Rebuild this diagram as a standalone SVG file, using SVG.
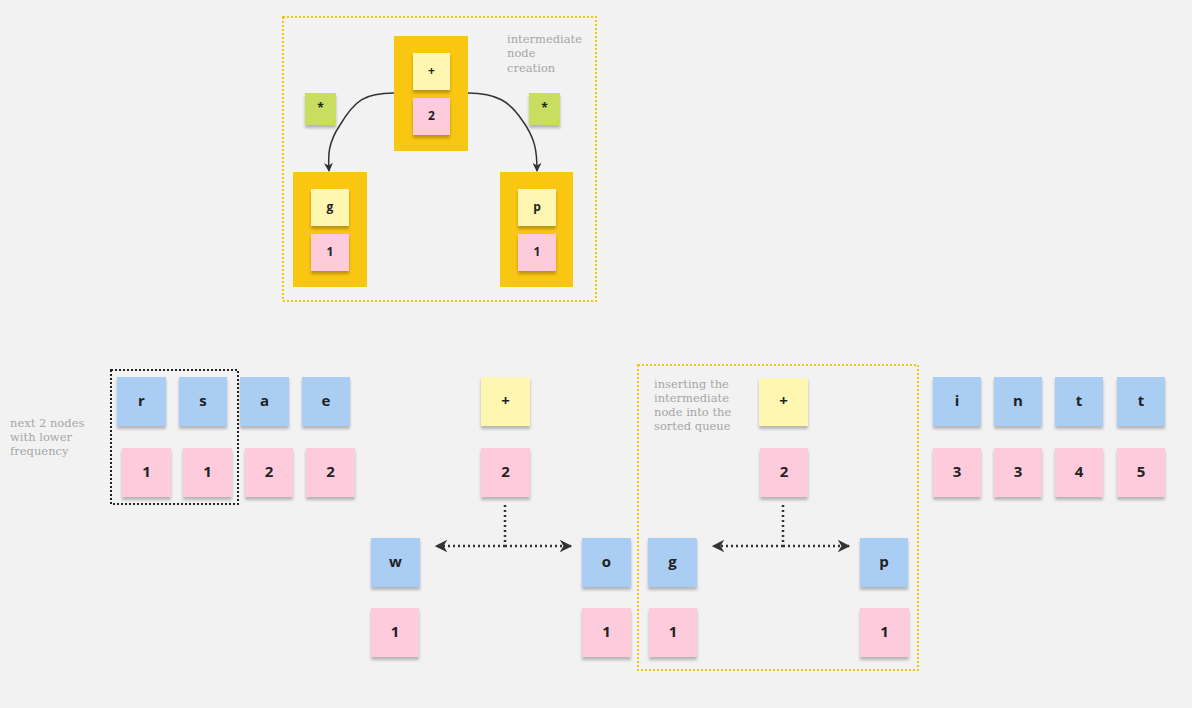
<svg xmlns="http://www.w3.org/2000/svg" width="1192" height="708" viewBox="0 0 1192 708">
<style>
.bg{fill:#f2f2f2}
.blue{fill:#a9cdf3}
.pink{fill:#fdcbdc}
.yel{fill:#fef7b1}
.grn{fill:#c9de60}
.org{fill:#f9c612}
.n{filter:url(#sh)}
.lbl{font-family:"Open Sans",sans-serif;font-weight:700;fill:#222;text-anchor:middle;font-size:15px}
.sl{font-size:12px}
.note{font-family:"DejaVu Serif","Liberation Serif",serif;font-weight:normal;fill:#a6a6a6;font-size:11.5px}
.yframe{fill:none;stroke:#f3c416;stroke-width:2;stroke-dasharray:2 2}
.kframe{fill:none;stroke:#222;stroke-width:2;stroke-dasharray:2 2}
.dot{fill:none;stroke:#333;stroke-width:2.5;stroke-dasharray:2 3}
.cur{fill:none;stroke:#333;stroke-width:1.5}
</style>
<defs>
<filter id="sh" x="-20%" y="-20%" width="140%" height="150%">
<feDropShadow dx="0" dy="3" stdDeviation="1.5" flood-color="#000" flood-opacity="0.25"/>
</filter>
<marker id="ah" viewBox="0 0 10 10" refX="9" refY="5" markerWidth="5" markerHeight="5" orient="auto-start-reverse">
<path d="M0,0 L10,5 L0,10 L3,5 z" fill="#333"/>
</marker>
<marker id="ah2" viewBox="0 0 10 10" refX="9" refY="5" markerWidth="6" markerHeight="6" orient="auto">
<path d="M0,0 L10,5 L0,10 L3,5 z" fill="#333"/>
</marker>
</defs>
<rect class="bg" x="0" y="0" width="1192" height="708"/>

<!-- frames -->
<rect class="yframe" x="283" y="17" width="313" height="284"/>
<rect class="kframe" x="111" y="370" width="127" height="134"/>
<rect class="yframe" x="638" y="365" width="280" height="305"/>

<!-- notes text -->
<text class="note" x="507" y="43">intermediate</text>
<text class="note" x="507" y="57">node</text>
<text class="note" x="507" y="72">creation</text>
<text class="note" x="10" y="427">next 2 nodes</text>
<text class="note" x="10" y="441">with lower</text>
<text class="note" x="10" y="455">frequency</text>
<text class="note" x="654" y="388">inserting the</text>
<text class="note" x="654" y="402">intermediate</text>
<text class="note" x="654" y="416">node into the</text>
<text class="note" x="654" y="430">sorted queue</text>

<!-- connectors -->
<g id="connectors">
<path class="cur" d="M394,93 C365,93 355,100 340,125 C328,143 328,155 329,171" marker-end="url(#ah2)"/>
<path class="cur" d="M468,93 C497,93 510,102 522,120 C535,138 537,150 537,171" marker-end="url(#ah2)"/>
<path class="dot" d="M505,505 L505,546"/>
<path class="dot" d="M505,546 L436,546" marker-end="url(#ah)"/>
<path class="dot" d="M505,546 L571,546" marker-end="url(#ah)"/>
<path class="dot" d="M783,505 L783,546"/>
<path class="dot" d="M783,546 L713,546" marker-end="url(#ah)"/>
<path class="dot" d="M783,546 L849,546" marker-end="url(#ah)"/>
</g>

<!-- top section -->
<g id="node-top-plus">
<rect class="org" x="394" y="36" width="74" height="115"/>
<rect class="yel n" x="413" y="53" width="37" height="37"/>
<text class="lbl sl" x="431.5" y="75">+</text>
<rect class="pink n" x="413" y="98" width="37" height="37"/>
<text class="lbl sl" x="431.5" y="120">2</text>
</g>
<g id="node-top-g">
<rect class="org" x="293" y="172" width="74" height="115"/>
<rect class="yel n" x="311" y="189" width="38" height="37"/>
<text class="lbl sl" x="330" y="211">g</text>
<rect class="pink n" x="311" y="234" width="38" height="37"/>
<text class="lbl sl" x="330" y="256">1</text>
</g>
<g id="node-top-p">
<rect class="org" x="500" y="172" width="73" height="115"/>
<rect class="yel n" x="518" y="189" width="38" height="37"/>
<text class="lbl sl" x="537" y="211">p</text>
<rect class="pink n" x="518" y="234" width="38" height="37"/>
<text class="lbl sl" x="537" y="256">1</text>
</g>
<g id="node-star-left">
<rect class="grn n" x="305" y="93" width="31" height="32"/>
<text class="lbl sl" x="320.5" y="112">*</text>
</g>
<g id="node-star-right">
<rect class="grn n" x="529" y="93" width="31" height="32"/>
<text class="lbl sl" x="544.5" y="112">*</text>
</g>

<!-- bottom queue -->
<g id="node-r"><rect class="blue n" x="117" y="377" width="49" height="49"/><text class="lbl" x="141.5" y="406">r</text>
<rect class="pink n" x="122" y="448" width="49" height="49"/><text class="lbl" x="146.5" y="477">1</text></g>
<g id="node-s"><rect class="blue n" x="179" y="377" width="48" height="49"/><text class="lbl" x="203" y="406">s</text>
<rect class="pink n" x="183" y="448" width="49" height="49"/><text class="lbl" x="207.5" y="477">1</text></g>
<g id="node-a"><rect class="blue n" x="240" y="377" width="49" height="49"/><text class="lbl" x="264.5" y="406">a</text>
<rect class="pink n" x="245" y="448" width="48" height="49"/><text class="lbl" x="269" y="477">2</text></g>
<g id="node-e"><rect class="blue n" x="302" y="377" width="48" height="49"/><text class="lbl" x="326" y="406">e</text>
<rect class="pink n" x="306" y="448" width="49" height="49"/><text class="lbl" x="330.5" y="477">2</text></g>

<g id="node-mid-plus"><rect class="yel n" x="481" y="377" width="49" height="49"/><text class="lbl" x="505.5" y="406">+</text>
<rect class="pink n" x="481" y="448" width="49" height="49"/><text class="lbl" x="505.5" y="477">2</text></g>
<g id="node-w"><rect class="blue n" x="371" y="538" width="49" height="49"/><text class="lbl" x="395.5" y="567">w</text>
<rect class="pink n" x="371" y="608" width="48" height="49"/><text class="lbl" x="395" y="637">1</text></g>
<g id="node-o"><rect class="blue n" x="582" y="538" width="49" height="49"/><text class="lbl" x="606.5" y="567">o</text>
<rect class="pink n" x="582" y="608" width="49" height="49"/><text class="lbl" x="606.5" y="637">1</text></g>

<g id="node-ins-plus"><rect class="yel n" x="759" y="378" width="49" height="48"/><text class="lbl" x="783.5" y="406">+</text>
<rect class="pink n" x="760" y="448" width="48" height="49"/><text class="lbl" x="784" y="477">2</text></g>
<g id="node-g"><rect class="blue n" x="648" y="538" width="49" height="49"/><text class="lbl" x="672.5" y="567">g</text>
<rect class="pink n" x="649" y="608" width="48" height="49"/><text class="lbl" x="673" y="637">1</text></g>
<g id="node-p"><rect class="blue n" x="860" y="538" width="48" height="49"/><text class="lbl" x="884" y="567">p</text>
<rect class="pink n" x="860" y="608" width="49" height="49"/><text class="lbl" x="884.5" y="637">1</text></g>

<g id="node-i"><rect class="blue n" x="933" y="377" width="48" height="49"/><text class="lbl" x="957" y="406">i</text>
<rect class="pink n" x="933" y="448" width="48" height="49"/><text class="lbl" x="957" y="477">3</text></g>
<g id="node-n"><rect class="blue n" x="994" y="377" width="48" height="49"/><text class="lbl" x="1018" y="406">n</text>
<rect class="pink n" x="994" y="448" width="48" height="49"/><text class="lbl" x="1018" y="477">3</text></g>
<g id="node-t1"><rect class="blue n" x="1055" y="377" width="48" height="49"/><text class="lbl" x="1079" y="406">t</text>
<rect class="pink n" x="1055" y="448" width="48" height="49"/><text class="lbl" x="1079" y="477">4</text></g>
<g id="node-t2"><rect class="blue n" x="1117" y="377" width="48" height="49"/><text class="lbl" x="1141" y="406">t</text>
<rect class="pink n" x="1117" y="448" width="48" height="49"/><text class="lbl" x="1141" y="477">5</text></g>
</svg>
